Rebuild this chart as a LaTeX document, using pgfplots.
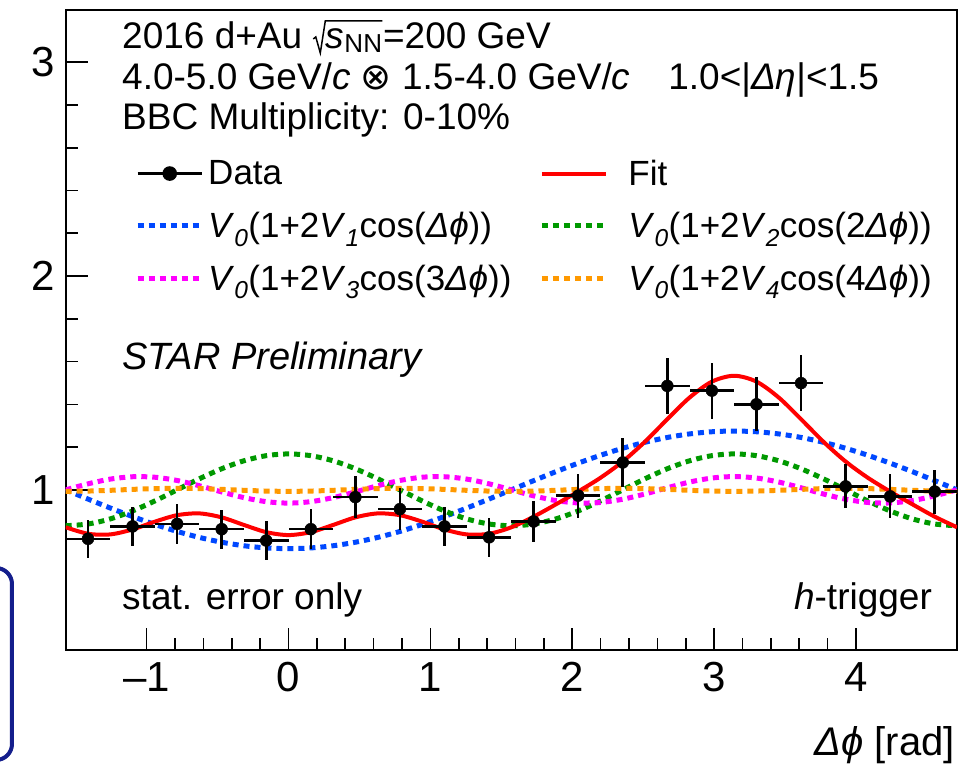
\documentclass[border=0pt]{standalone}
\usepackage{fontspec}
\setmainfont{Liberation Sans}
\newfontfamily\symfont{DejaVu Sans}
\usepackage{pgfplots}
\pgfplotsset{compat=1.18}
\usepackage{pgfplotstable}

\definecolor{rootblue}{RGB}{0,72,255}
\definecolor{rootgreen}{RGB}{0,153,0}
\definecolor{rootmag}{RGB}{255,0,255}
\definecolor{rootorange}{RGB}{255,153,0}
\definecolor{rootred}{RGB}{255,0,0}
\definecolor{boxblue}{RGB}{20,30,140}

\pgfplotstableread{
x blue green mag orange red
-1.5708 1.0000 0.8320 1.0000 0.9930 0.8250
-1.4137 0.9570 0.8402 1.0281 0.9943 0.7946
-1.2566 0.9150 0.8641 1.0502 0.9978 0.7916
-1.0996 0.8752 0.9013 1.0612 1.0022 0.8147
-0.9425 0.8384 0.9481 1.0590 1.0057 0.8511
-0.7854 0.8055 1.0000 1.0438 1.0070 0.8815
-0.6283 0.7775 1.0519 1.0192 1.0057 0.8898
-0.4712 0.7550 1.0987 0.9903 1.0022 0.8713
-0.3142 0.7385 1.1359 0.9636 0.9978 0.8358
-0.1571 0.7284 1.1598 0.9448 0.9943 0.8021
0.0000 0.7250 1.1680 0.9380 0.9930 0.7885
0.1571 0.7284 1.1598 0.9448 0.9943 0.8021
0.3142 0.7385 1.1359 0.9636 0.9978 0.8358
0.4712 0.7550 1.0987 0.9903 1.0022 0.8713
0.6283 0.7775 1.0519 1.0192 1.0057 0.8898
0.7854 0.8055 1.0000 1.0438 1.0070 0.8815
0.9425 0.8384 0.9481 1.0590 1.0057 0.8511
1.0996 0.8752 0.9013 1.0612 1.0022 0.8147
1.2566 0.9150 0.8641 1.0502 0.9978 0.7916
1.4137 0.9570 0.8402 1.0281 0.9943 0.7946
1.5708 1.0000 0.8320 1.0000 0.9930 0.8250
1.7279 1.0430 0.8402 0.9719 0.9943 0.8745
1.8850 1.0850 0.8641 0.9498 0.9978 0.9322
2.0420 1.1248 0.9013 0.9388 1.0022 0.9921
2.1991 1.1616 0.9481 0.9410 1.0057 1.0564
2.3562 1.1945 1.0000 0.9562 1.0070 1.1326
2.5133 1.2225 1.0519 0.9808 1.0057 1.2254
2.6704 1.2450 1.0987 1.0097 1.0022 1.3305
2.8274 1.2615 1.1359 1.0364 0.9978 1.4317
2.9845 1.2716 1.1598 1.0552 0.9943 1.5061
3.1416 1.2750 1.1680 1.0620 0.9930 1.5335
3.2987 1.2716 1.1598 1.0552 0.9943 1.5061
3.4558 1.2615 1.1359 1.0364 0.9978 1.4317
3.6128 1.2450 1.0987 1.0097 1.0022 1.3305
3.7699 1.2225 1.0519 0.9808 1.0057 1.2254
3.9270 1.1945 1.0000 0.9562 1.0070 1.1326
4.0841 1.1616 0.9481 0.9410 1.0057 1.0564
4.2412 1.1248 0.9013 0.9388 1.0022 0.9921
4.3982 1.0850 0.8641 0.9498 0.9978 0.9322
4.5553 1.0430 0.8402 0.9719 0.9943 0.8745
4.7124 1.0000 0.8320 1.0000 0.9930 0.8250
}\curves

\pgfplotstableread{
x y ex ey
-1.4137 0.771 0.1571 0.090
-1.0996 0.829 0.1571 0.090
-0.7854 0.841 0.1571 0.093
-0.4712 0.816 0.1571 0.092
-0.1571 0.763 0.1571 0.090
0.1571 0.816 0.1571 0.093
0.4712 0.966 0.1571 0.100
0.7854 0.910 0.1571 0.099
1.0996 0.829 0.1571 0.093
1.4137 0.778 0.1571 0.092
1.7279 0.852 0.1571 0.098
2.0420 0.973 0.1571 0.103
2.3562 1.128 0.1571 0.113
2.6704 1.486 0.1571 0.131
2.9845 1.464 0.1571 0.131
3.2987 1.400 0.1571 0.127
3.6128 1.499 0.1571 0.131
3.9270 1.016 0.1571 0.103
4.2412 0.969 0.1571 0.103
4.5553 0.992 0.1571 0.103
}\data

\newcommand{\Vt}[1]{\textit{V}\textsubscript{\textit{#1}}}
\newcommand{\txtfont}{\fontsize{35}{40}\selectfont}
\newcommand{\hdrfont}{\fontsize{37}{42}\selectfont}
\newcommand{\bigfont}{\fontsize{42}{48}\selectfont}
\newcommand{\dphi}{\textit{Δϕ}}
\newsavebox\snnbox
\newcommand{\sqrtsnn}{\sbox\snnbox{\textit{s}\raisebox{-4pt}{\fontsize{26}{30}\selectfont NN}}%
  \begin{tikzpicture}[baseline=0pt]
    \draw[line width=1.5pt, line join=miter] (0pt,10pt) -- (2.5pt,12pt) -- (7pt,-4pt) -- (12pt,28pt) -- ({13pt+\wd\snnbox},28pt);
    \node[anchor=base west, inner sep=0pt] at (12.5pt,0pt) {\usebox\snnbox};
  \end{tikzpicture}}

\tikzset{
  dotline/.style={line width=5pt, dash pattern=on 6pt off 5pt, line cap=butt},
}

\begin{document}
\begin{tikzpicture}
\useasboundingbox (-65.7pt,-116pt) rectangle (892.3pt,650pt);
\draw[boxblue, line width=4pt, rounded corners=16pt] (-200pt,-110pt) rectangle (-53.7pt,82pt);
\begin{axis}[
  scale only axis,
  width=891.3pt, height=640pt,
  xmin=-1.5708, xmax=4.7124,
  ymin=0.251, ymax=3.244,
  axis line style={line width=2pt},
  tick style={line width=1.6pt, black},
  major tick length=22pt,
  minor tick length=12pt,
  tick pos=left,
  xtick={-1,0,1,2,3,4},
  xticklabels={\textendash1,0,1,2,3,4},
  ytick={1,2,3},
  yticklabels={1,2,3},
  minor x tick num=4,
  minor y tick num=4,
  tick label style={font=\bigfont, inner sep=0pt},
  xticklabel style={anchor=north, yshift=-12pt},
  yticklabel style={anchor=east, xshift=-10.7pt},
  xlabel={\dphi{} [rad]},
  xlabel style={at={(axis description cs:1,0)}, anchor=base east, yshift=-105pt, xshift=-2pt, inner sep=0pt, font=\fontsize{40}{46}\selectfont},
  legend columns=2,
  legend cell align=left,
  legend image code/.code={\draw[mark repeat=2,mark phase=2,#1] plot coordinates {(0pt,0pt) (32pt,0pt) (64pt,0pt)};},
  legend style={draw=none, fill=none, inner sep=0pt,
    at={(axis description cs:0.0778,0.772)}, anchor=north west,
    font=\txtfont, row sep=17.5pt,
    nodes={inner sep=4pt},
    /tikz/every even column/.append style={column sep=24pt},
    /tikz/column 3/.style={column sep=16pt}},
]
\addlegendimage{black, line width=2.6pt, mark=*, mark size=6pt, mark options={solid}}
\addlegendentry{Data}
\addlegendimage{rootred, line width=4pt}
\addlegendentry{Fit}
\addlegendimage{rootblue, dotline}
\addlegendentry{\Vt{0}(1+2\Vt{1}cos(\dphi))}
\addlegendimage{rootgreen, dotline}
\addlegendentry{\Vt{0}(1+2\Vt{2}cos(2\dphi))}
\addlegendimage{rootmag, dotline}
\addlegendentry{\Vt{0}(1+2\Vt{3}cos(3\dphi))}
\addlegendimage{rootorange, dotline}
\addlegendentry{\Vt{0}(1+2\Vt{4}cos(4\dphi))}

\addplot[forget plot, rootblue, dotline, smooth] table[x=x, y=blue] {\curves};
\addplot[forget plot, rootgreen, dotline, smooth] table[x=x, y=green] {\curves};
\addplot[forget plot, rootmag, dotline, smooth] table[x=x, y=mag] {\curves};
\addplot[forget plot, rootorange, dotline, smooth] table[x=x, y=orange] {\curves};
\addplot[forget plot, rootred, line width=4pt, smooth] table[x=x, y=red] {\curves};
\addplot[forget plot, only marks, mark=*, mark size=6pt, black,
  error bars/.cd, x dir=both, x explicit, y dir=both, y explicit,
  error mark=none, error bar style={line width=2.6pt, black}]
  table[x=x, y=y, x error=ex, y error=ey] {\data};

\node[anchor=base west, font=\hdrfont, inner sep=0pt] at (axis description cs:0.0632,0.9391)
  {2016 d+Au \sqrtsnn=200 GeV};
\node[anchor=base west, font=\hdrfont, inner sep=0pt] at (axis description cs:0.0632,0.8755)
  {4.0-5.0 GeV/\textit{c} {\symfont ⊗} 1.5-4.0 GeV/\textit{c}\hspace{38pt}1.0<|\textit{Δη}|<1.5};
\node[anchor=base west, font=\hdrfont, inner sep=0pt] at (axis description cs:0.0632,0.8130)
  {BBC Multiplicity: 0-10\%};
\node[anchor=base west, font=\fontsize{38}{43}\selectfont\itshape, inner sep=0pt] at (axis description cs:0.0632,0.438)
  {STAR Preliminary};
\node[anchor=base west, font=\hdrfont, inner sep=0pt] at (axis description cs:0.0632,0.063)
  {stat. error only};
\node[anchor=base east, font=\hdrfont, inner sep=0pt] at (axis description cs:0.972,0.063)
  {\textit{h}-trigger};
\end{axis}
\end{tikzpicture}
\end{document}
